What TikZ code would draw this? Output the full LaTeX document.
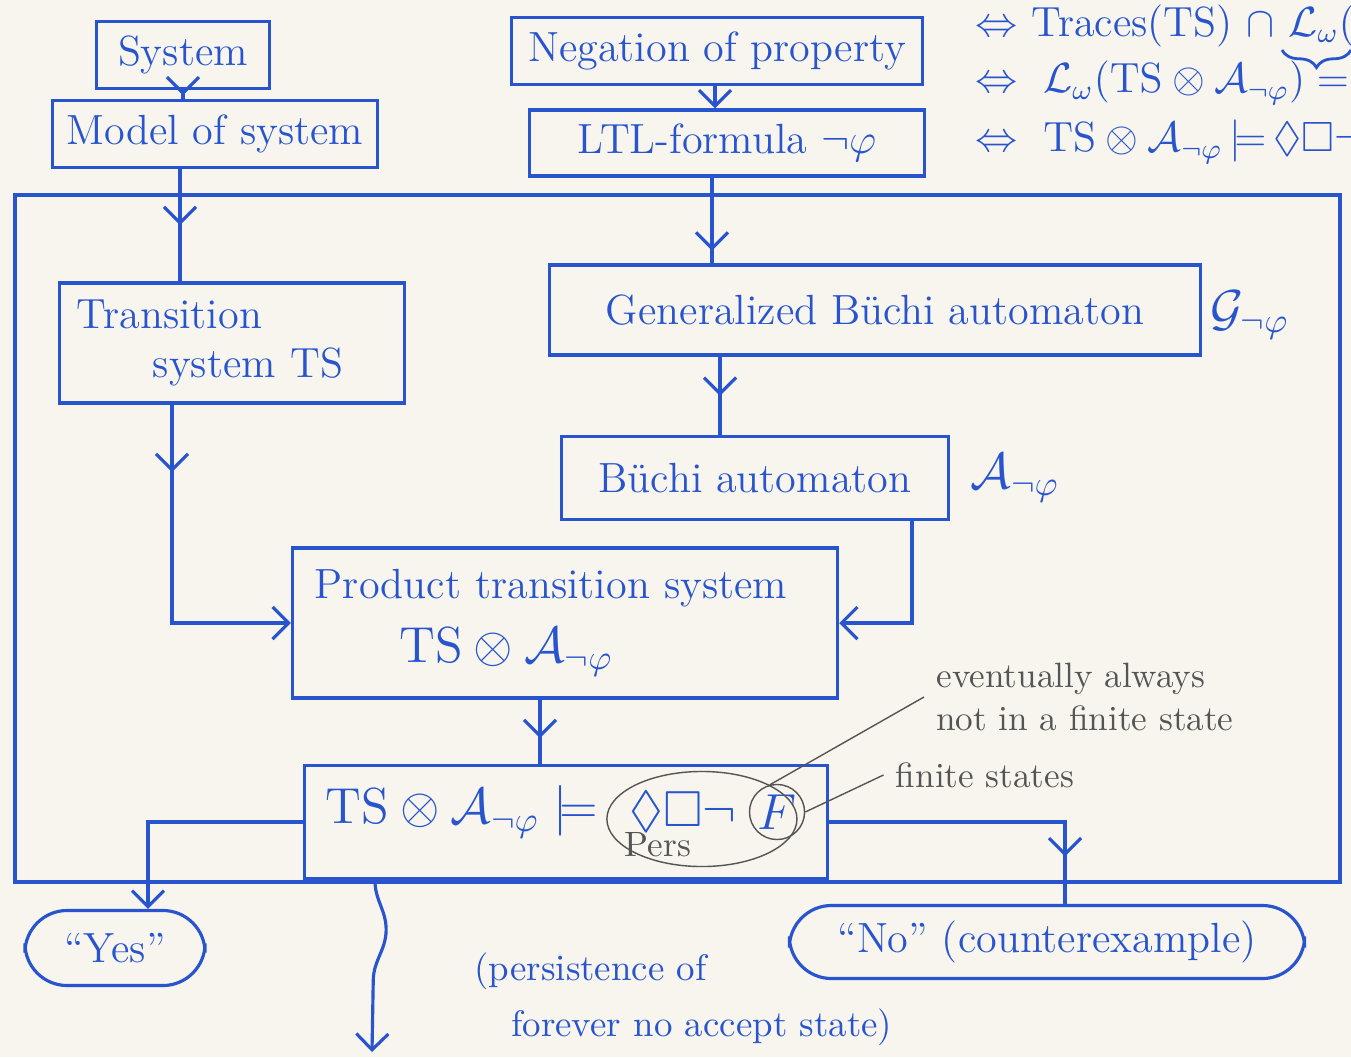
\documentclass[tikz,border=0pt]{standalone}
\usepackage{amsmath,amssymb}
\usetikzlibrary{arrows.meta,positioning,shapes.geometric,decorations.markings,decorations.pathmorphing,decorations.pathreplacing}

\definecolor{ink}{RGB}{40,85,205}
\definecolor{paper}{RGB}{247,245,238}
\definecolor{pencil}{RGB}{85,85,85}

\tikzset{
  box/.style={draw=ink, line width=0.9pt, text=ink, font=\large, inner sep=4pt},
  endbox/.style={box, rounded corners=12pt},
  wire/.style={draw=ink, line width=0.9pt},
  tip/.style={-{Straight Barb[length=1.6mm,width=3.2mm]}},
  midtip/.style={postaction={decorate, decoration={markings,
      mark=at position #1 with {\arrow{Straight Barb[length=1.6mm,width=3.2mm]}}}}},
  note/.style={text=pencil, font=\normalsize},
}

\begin{document}
\begin{tikzpicture}[x=0.01cm, y=-0.01cm]
\fill[paper] (0,0) rectangle (1351,1057);
\useasboundingbox (0,0) rectangle (1351,1057);

% ---------- INPUTS ----------
\node[box, minimum width=1.73cm, minimum height=0.6cm] (system) at (183,55) {System};
\node[box, minimum width=3.2cm, minimum height=0.58cm] (model) at (215,134) {Model of system};
\node[box, minimum width=4.1cm, minimum height=0.62cm] (negation) at (717,51) {Negation of property};
\node[box, minimum width=3.95cm, minimum height=0.63cm] (ltl) at (727,143) {LTL-formula $\neg\varphi$};

% Equivalences (top right)
\node[text=ink, font=\large, anchor=west, inner sep=0pt] (eq1) at (975,26) {$\Leftrightarrow$\ Traces(TS) $\cap\ \mathcal{L}_\omega($};
\node[text=ink, font=\large, anchor=west, inner sep=0pt] (eq2) at (975,83) {$\Leftrightarrow\ \mathcal{L}_\omega(\mathrm{TS}\otimes\mathcal{A}_{\neg\varphi}) =$};
\node[text=ink, font=\large, anchor=west, inner sep=0pt] (eq3) at (975,142) {$\Leftrightarrow\ \mathrm{TS}\otimes\mathcal{A}_{\neg\varphi}\,{\models}\,\Diamond\Box\neg F$};
\draw[ink, thick, decorate, decoration={brace, amplitude=5pt}] (1351,50) -- (1282,50);

% Frame
\draw[wire] (15,195) rectangle (1340,882);

% ---------- AUTOMATA ----------
\node[box, minimum width=3.45cm, minimum height=1.2cm, text width=3.1cm, align=left] (ts) at (232,343) {Transition\\\hspace{1.8em}system TS};
\node[box, minimum width=6.5cm, minimum height=0.9cm] (gba) at (875,310) {Generalized Büchi automaton};
\node[text=ink, font=\Large] (glabel) at (1250,315) {$\mathcal{G}_{\neg\varphi}$};
\node[box, minimum width=3.86cm, minimum height=0.83cm] (ba) at (755,478) {Büchi automaton};
\node[text=ink, font=\Large] (alabel) at (1015,478) {$\mathcal{A}_{\neg\varphi}$};
\node[box, minimum width=5.45cm, minimum height=1.5cm, text width=5.0cm, align=left] (prod) at (565,623)
  {Product transition system\\[4pt] \hspace{2em}{\Large$\mathrm{TS}\otimes\mathcal{A}_{\neg\varphi}$}};

% ---------- CHECK ----------
\node[box, minimum width=5.23cm, minimum height=1.13cm] (check) at (566,822) {};
\node[text=ink, font=\Large, anchor=west] (lhs) at (313,812) {$\mathrm{TS}\otimes\mathcal{A}_{\neg\varphi}\models$};
\node[text=ink, font=\Large, right=2pt of lhs] (pers) {$\Diamond\Box\neg$};
\node[text=ink, font=\Large, draw=pencil, thin, circle, inner sep=0.3pt, right=0pt of pers] (fin) {$F$};
\node[note, below=-7pt of pers, xshift=-0.25cm] (perslbl) {Pers};
\node[draw=pencil, thin, ellipse, minimum width=1.9cm, minimum height=0.95cm, inner sep=0pt] (ring) at ([xshift=0.19cm, yshift=-0.07cm]pers.center) {};

\node[note, align=left] (always) at (1085,697) {eventually always\\not in a finite state};
\node[note] (finite) at (985,775) {finite states};
\draw[pencil, thin] (ring.north east) -- (always.west);
\draw[pencil, thin] (fin.east) -- (finite.west);

% ---------- ANSWERS ----------
\node[endbox, minimum width=1.8cm, minimum height=0.75cm] (yes) at (115,948) {``Yes''};
\node[endbox, minimum width=5.15cm, minimum height=0.73cm] (no) at (1047,942) {``No'' (counterexample)};
\node[text=ink, font=\fontsize{10.5}{16}\selectfont, align=left, anchor=north west] (perstext) at (462,940)
  {(persistence of\\\hspace{1em}forever no accept state)};

% ---------- CONNECTORS ----------
\coordinate (mx) at (180,0);
\coordinate (nx) at (715,0);
\coordinate (lx) at (712,0);
\coordinate (gx) at (720,0);
\coordinate (tx) at (172,0);
\coordinate (bx) at (912,0);
\coordinate (px) at (540,0);
\coordinate (yx) at (148,0);
\coordinate (ox) at (1065,0);
\coordinate (wx) at (375,0);
\coordinate (out) at (372,1052);

\draw[wire, midtip=0.6] (system.south) -- (system.south |- model.north);
\draw[wire, midtip=0.5] (model.south -| mx) -- (ts.north -| mx);
\draw[wire, tip] (negation.south -| nx) -- (ltl.north -| nx);
\draw[wire, midtip=0.85] (ltl.south -| lx) -- (gba.north -| lx);
\draw[wire, midtip=0.5] (gba.south -| gx) -- (ba.north -| gx);
\draw[wire, tip, midtip=0.2] (ts.south -| tx) |- (prod.west);
\draw[wire, tip] (ba.south -| bx) |- (prod.east);
\draw[wire, midtip=0.6] (prod.south -| px) -- (check.north -| px);
\draw[wire, tip] (check.west) -| (yes.north -| yx);
\draw[wire, midtip=0.85] (check.east) -| (no.north -| ox);
\draw[wire, tip, decorate, decoration={snake, amplitude=1.2mm, segment length=1.6cm, post length=3mm}] (check.south -| wx) -- (out);

\end{tikzpicture}
\end{document}
